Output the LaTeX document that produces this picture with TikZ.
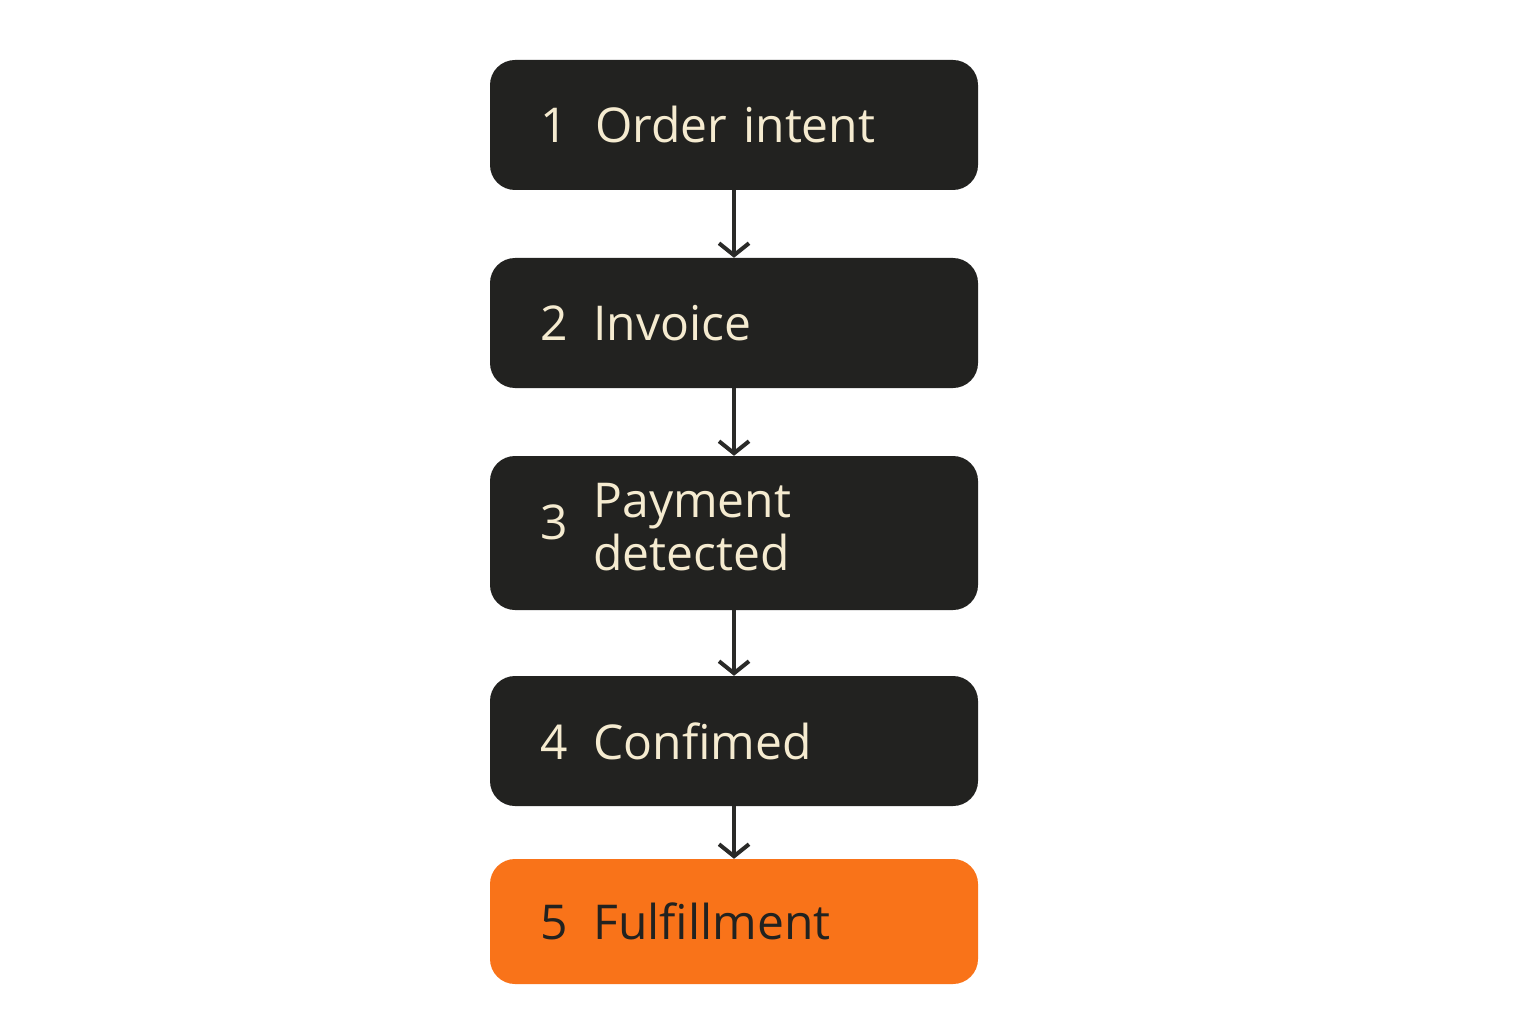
\documentclass[tikz,border=0pt]{standalone}
\usepackage{fontspec}
\setmainfont{Open Sans}[FontFace={sb}{n}{Font=* Semibold}]
\usetikzlibrary{arrows.meta}
\definecolor{boxdark}{HTML}{222220}
\definecolor{cream}{HTML}{F5EBD0}
\definecolor{orangebox}{HTML}{F97319}
\definecolor{arrowc}{HTML}{2A2A28}
\tikzset{
  stepbox/.style={rounded corners=25pt, fill=boxdark, text=cream, minimum width=488pt, text width=388pt, inner xsep=50pt, align=left, font=\fontsize{48}{55}\selectfont},
  flow/.style={draw=arrowc, line width=4pt, -{Straight Barb[length=12pt,width=30pt,line width=4pt]}}
}
\begin{document}
\begin{tikzpicture}[x=1pt,y=-1pt]
\useasboundingbox[fill=white] (0,0) rectangle (1536,1024);
\node[stepbox, minimum height=130pt] (s1) at (734,125) {1\hspace{28pt}Order intent};
\node[stepbox, minimum height=130pt] (s2) at (734,323) {2\hspace{26pt}Invoice};
\node[stepbox, minimum height=154pt] (s3) at (734,533) {\begin{tabular}{@{}l@{\hspace{26pt}}l@{}}3 & \begin{tabular}[c]{@{}l@{}}Payment\\[-2pt]detected\end{tabular}\end{tabular}};
\node[stepbox, minimum height=130pt] (s4) at (734,741) {4\hspace{26pt}Confimed};
\node[stepbox, minimum height=125pt, fill=orangebox, text=boxdark] (s5) at (734,921.5) {5\hspace{26pt}Fulfillment};
\draw[flow] (s1) -- (s2);
\draw[flow] (s2) -- (s3);
\draw[flow] (s3) -- (s4);
\draw[flow] (s4) -- (s5);
\end{tikzpicture}
\end{document}
